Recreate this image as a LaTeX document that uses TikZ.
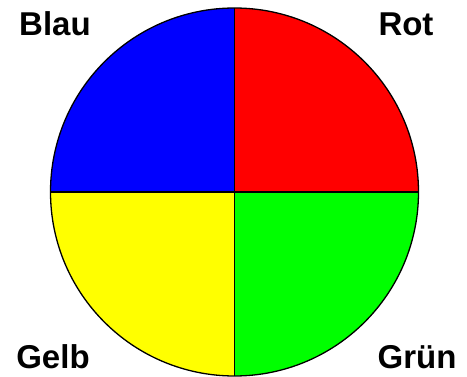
\documentclass[tikz,border=0pt]{standalone}
\usepackage{fontspec}
\setmainfont{Liberation Sans}
\definecolor{cblue}{RGB}{0,0,255}
\definecolor{cred}{RGB}{255,0,0}
\definecolor{cyellow}{RGB}{255,255,0}
\definecolor{cgreen}{RGB}{0,255,0}
\begin{document}
\begin{tikzpicture}[x=1pt,y=-1pt,
  quarter/.style={draw=black,line width=1.3pt,line join=round},
  lbl/.style={anchor=base,inner sep=0pt,font=\fontsize{33}{36}\selectfont\bfseries}]
\useasboundingbox (0,0) rectangle (467,377);
\coordinate (c) at (234.5,192);
\fill[cred] (c) -- ++(0,-184) arc[start angle=270,end angle=360,radius=184] -- cycle;
\fill[cblue] (c) -- ++(-184,0) arc[start angle=180,end angle=270,radius=184] -- cycle;
\fill[cyellow] (c) -- ++(-184,0) arc[start angle=180,end angle=90,radius=184] -- cycle;
\fill[cgreen] (c) -- ++(184,0) arc[start angle=0,end angle=90,radius=184] -- cycle;
\draw[quarter] (c) circle[radius=184];
\draw[quarter] (c) -- ++(0,-184);
\draw[quarter] (c) -- ++(0,184);
\draw[quarter] (c) -- ++(-184,0);
\draw[quarter] (c) -- ++(184,0);
\node[lbl] (blau) at (55,36) {Blau};
\node[lbl] (rot) at (406,36) {Rot};
\node[lbl] (gelb) at (53,369) {Gelb};
\node[lbl] (gruen) at (417,369) {Grün};
\end{tikzpicture}
\end{document}
